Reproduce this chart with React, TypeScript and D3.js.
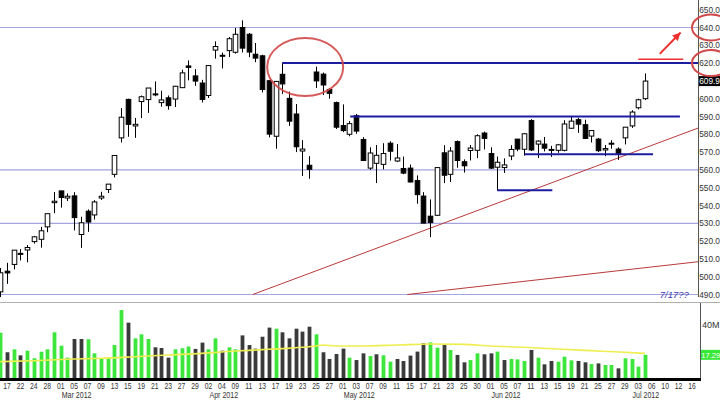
import React from 'react';
import * as d3 from 'd3';

// ---- data ----
const dates = [
  '2012-02-16','2012-02-17','2012-02-21','2012-02-22','2012-02-23','2012-02-24','2012-02-27','2012-02-28','2012-02-29',
  '2012-03-01','2012-03-02','2012-03-05','2012-03-06','2012-03-07','2012-03-08','2012-03-09','2012-03-12','2012-03-13',
  '2012-03-14','2012-03-15','2012-03-16','2012-03-19','2012-03-20','2012-03-21','2012-03-22','2012-03-23','2012-03-26',
  '2012-03-27','2012-03-28','2012-03-29','2012-03-30','2012-04-02','2012-04-03','2012-04-04','2012-04-05','2012-04-09',
  '2012-04-10','2012-04-11','2012-04-12','2012-04-13','2012-04-16','2012-04-17','2012-04-18','2012-04-19','2012-04-20',
  '2012-04-23','2012-04-24','2012-04-25','2012-04-26','2012-04-27','2012-04-30','2012-05-01','2012-05-02','2012-05-03',
  '2012-05-04','2012-05-07','2012-05-08','2012-05-09','2012-05-10','2012-05-11','2012-05-14','2012-05-15','2012-05-16',
  '2012-05-17','2012-05-18','2012-05-21','2012-05-22','2012-05-23','2012-05-24','2012-05-25','2012-05-29','2012-05-30',
  '2012-05-31','2012-06-01','2012-06-04','2012-06-05','2012-06-06','2012-06-07','2012-06-08','2012-06-11','2012-06-12',
  '2012-06-13','2012-06-14','2012-06-15','2012-06-18','2012-06-19','2012-06-20','2012-06-21','2012-06-22','2012-06-25',
  '2012-06-26','2012-06-27','2012-06-28','2012-06-29','2012-07-02','2012-07-03','2012-07-05'
];
const futureDates = ['2012-07-06','2012-07-09','2012-07-10','2012-07-11','2012-07-12','2012-07-13','2012-07-16'];

const opens = [
  491.5,503.1,506.9,513.1,515.0,519.7,521.0,528.0,541.6,548.2,544.2,545.4,523.7,536.8,534.7,544.2,549.0,557.5,
  578.0,599.6,584.7,598.4,599.5,602.7,597.8,600.5,599.8,606.2,618.4,612.8,608.8,601.8,627.3,624.4,627.0,626.1,
  640.0,636.2,625.0,624.1,610.1,578.9,613.7,600.2,591.4,570.6,562.6,615.0,613.8,605.2,597.8,584.9,580.0,590.5,
  577.1,561.0,563.7,563.1,575.0,565.0,560.8,561.0,554.0,545.3,534.0,534.5,569.6,557.5,575.9,564.6,570.9,571.0,
  580.7,569.2,561.5,561.3,567.8,577.3,571.6,587.7,574.5,574.5,571.2,571.0,571.0,583.4,588.2,585.4,579.0,577.3,
  571.2,575.0,571.7,578.0,584.7,594.9,600.0
];
const highs = [
  504.9,507.8,514.9,515.5,517.8,522.9,528.0,535.4,547.6,548.2,546.8,547.5,533.7,537.8,543.0,547.7,552.0,568.2,
  594.7,600.0,589.2,601.8,606.0,609.7,604.5,601.8,607.2,616.3,621.5,616.6,610.6,618.8,632.2,625.9,634.7,639.8,
  644.0,636.9,631.3,624.7,610.3,610.0,620.3,604.0,597.0,576.7,567.7,618.0,614.7,606.0,598.4,596.8,587.4,591.4,
  578.4,572.7,574.0,575.0,576.1,574.5,567.5,563.0,556.9,547.5,543.4,561.5,573.9,572.8,576.5,565.9,574.0,580.0,
  581.5,572.7,567.5,566.5,573.9,577.3,580.6,588.5,576.6,578.5,573.5,574.6,587.9,590.0,589.3,588.2,582.2,578.0,
  574.0,576.7,572.7,584.0,593.5,600.0,614.2
];
const lows = [
  486.6,496.0,504.1,509.1,508.1,518.6,516.3,525.0,535.7,538.8,542.5,526.0,516.2,525.2,532.1,543.1,547.0,555.8,
  575.4,578.6,578.0,589.1,592.0,601.4,595.5,593.8,595.3,606.1,610.3,607.2,597.9,600.4,622.5,617.0,623.4,625.3,
  626.0,623.3,620.5,603.5,578.3,571.9,602.7,584.7,570.0,556.6,555.0,606.0,602.1,600.0,583.0,581.2,578.9,580.3,
  565.2,560.0,552.6,560.3,565.2,564.4,557.6,553.0,541.0,530.1,522.2,534.1,552.6,553.2,561.2,558.5,565.3,566.6,
  571.5,560.5,548.5,558.3,565.5,570.5,568.0,570.6,566.7,570.4,567.3,569.6,570.4,583.1,580.8,577.4,575.4,570.0,
  567.7,571.9,565.6,574.3,583.6,594.0,599.2
];
const closes = [
  502.2,502.1,514.9,513.0,516.4,522.4,525.8,535.4,542.4,544.5,545.2,533.2,530.3,530.7,542.0,545.2,552.0,568.1,
  589.6,585.6,585.6,601.1,606.0,602.5,599.3,596.1,607.0,614.5,617.6,609.9,599.6,618.6,629.3,624.3,633.7,636.2,
  628.4,626.2,622.8,605.2,580.1,609.7,608.3,587.4,573.0,571.7,560.3,610.0,607.7,603.0,584.0,582.1,586.0,581.8,
  565.3,569.5,568.2,569.2,570.5,566.7,558.2,553.2,546.1,530.1,530.4,561.3,557.0,570.6,565.3,562.3,572.3,579.2,
  577.7,561.0,564.3,562.8,571.5,571.7,580.3,571.2,576.2,572.2,571.5,574.1,585.8,587.4,585.7,577.7,582.1,570.8,
  572.0,574.5,569.1,584.0,592.5,599.4,609.9
];
// volume, millions of shares
const volumes = [
  33.8,19.2,21.4,16.9,20.4,14.7,19.6,21.4,34.1,24.1,15.2,29.1,29.1,28.9,18.4,14.7,14.7,24.6,
  50.7,41.3,29.6,32.6,29.1,22.9,22.4,15.2,21.4,22.2,23.5,21.7,26.4,21.4,29.6,20.4,22.9,21.4,
  31.8,24.6,21.9,30.8,37.6,36.8,34.1,29.6,36.8,34.6,38.3,32.6,19.2,14.2,17.9,21.9,15.2,13.4,
  18.4,16.4,17.7,16.9,12.2,14.2,12.7,16.7,19.7,25.9,26.6,22.6,24.6,20.9,17.2,11.7,13.4,18.4,
  17.7,18.4,19.7,13.4,14.2,13.9,12.7,20.9,15.2,10.2,12.7,12.2,15.9,13.2,12.7,11.7,10.4,10.9,
  9.7,9.7,7.2,14.7,14.2,8.5,17.29
];
// volume moving average (millions), read at selected sessions
const volMaDates = ['2012-02-16','2012-02-24','2012-03-02','2012-03-09','2012-03-16','2012-03-23','2012-03-30','2012-04-09',
  '2012-04-16','2012-04-23','2012-04-25','2012-04-26','2012-04-30','2012-05-04','2012-05-11','2012-05-18','2012-05-25',
  '2012-06-01','2012-06-08','2012-06-15','2012-06-22','2012-06-29','2012-07-05'];
const volMa = [12.2,12.9,14.0,14.7,15.9,17.2,18.4,20.1,21.4,22.9,23.9,24.6,23.9,23.9,24.6,25.4,25.1,23.9,22.9,21.6,20.4,19.2,18.4];

const priceTicks = [490,500,510,520,530,540,550,560,570,580,590,600,610,620,630,640,650];
const gridLevels = [640, 560, 530, 490];
const lastPriceLabel = '609.9';
const lastVolumeLabel = '17.29';
const volTickLabel = '40M';
const volTick = 40;

// annotations in (session slot, price) space
const hLineLevels = [620, 590, 568.8, 548.5];
const hLineFrom = [42, 52.1, 78.1, 74];
const hLineTo = [103.9, 101.2, 97.2, 82.2];
const trendFrom = [[37.6, 490], [60.6, 490]];
const trendTo = [[103.9, 583.5], [103.9, 508.4]];
const circledSlot = 45.4, circledPrice = 617.8, circledRx = 5.66, circledRy = 16.3;
const circledAxisLevels = [640, 620];
const arrowFrom = [98.2, 625.2], arrowTo = [101.3, 637.2];
const dashFrom = [95.0, 622.1], dashTo = [101.7, 622.1];
const noteText = '7/17??';
const noteSlot = 98.2, notePrice = 490;

const monthNames = ['Jan','Feb','Mar','Apr','May','Jun','Jul','Aug','Sep','Oct','Nov','Dec'];

export default function App() {
  const W = 720, H = 400;
  const allDates = [...dates, ...futureDates];
  const x = d3.scaleLinear().domain([0, allDates.length - 1]).range([0.28, 692]);
  const y = d3.scaleLinear().domain([490, 640]).range([294.5, 27.5]);
  const yv = d3.scaleLinear().domain([0, volTick]).range([378, 324.4]);
  const axisX = 698;
  const font = "'Liberation Sans', Arial, sans-serif";
  const bodyW = 4.6, volW = 3.8;

  const maLine = d3.line<number>()
    .x((_, i) => x(dates.indexOf(volMaDates[i])))
    .y((d) => yv(d))
    .curve(d3.curveMonotoneX);

  const dayTicks: { k: number; label: string }[] = [];
  for (let k = 1; k < allDates.length; k += 2) dayTicks.push({ k, label: allDates[k].slice(8, 10) });
  const monthTicks: { k: number; label: string }[] = [];
  for (let k = 1; k < allDates.length; k++) {
    if (allDates[k].slice(5, 7) !== allDates[k - 1].slice(5, 7)) {
      monthTicks.push({ k, label: monthNames[+allDates[k].slice(5, 7) - 1] + ' ' + allDates[k].slice(0, 4) });
    }
  }

  const cx = x(circledSlot), cy = y(circledPrice);
  const erx = x(circledSlot + circledRx) - cx;
  const ery = y(circledPrice - circledRy) - cy;

  const ax1 = x(arrowFrom[0]), ay1 = y(arrowFrom[1]);
  const ax2 = x(arrowTo[0]), ay2 = y(arrowTo[1]);
  const ang = Math.atan2(ay2 - ay1, ax2 - ax1);
  const ah = 9;
  const head = [
    [ax2, ay2],
    [ax2 - ah * Math.cos(ang - 0.45), ay2 - ah * Math.sin(ang - 0.45)],
    [ax2 - ah * Math.cos(ang + 0.45), ay2 - ah * Math.sin(ang + 0.45)],
  ];
  const lastY = y(closes[closes.length - 1]);
  const lastVY = yv(volumes[volumes.length - 1]);

  return (
    <svg width={W} height={H} style={{ position: 'absolute', left: 0, top: 0, background: '#fff' }}
      fontFamily={font}>
      <defs>
        <clipPath id="mainClip"><rect x={0} y={0} width={axisX} height={297} /></clipPath>
      </defs>
      <rect x={0} y={0} width={W} height={H} fill="#fff" />

      {/* horizontal reference lines */}
      {gridLevels.map((g) => (
        <line key={g} x1={0} x2={axisX} y1={y(g)} y2={y(g)} stroke="#a4a4e0" strokeWidth={1.2} />
      ))}

      {/* trendlines */}
      {trendFrom.map((f, i) => (
        <line key={i} x1={x(f[0])} y1={y(f[1])} x2={x(trendTo[i][0])} y2={y(trendTo[i][1])}
          stroke="#b83a3a" strokeWidth={1} />
      ))}

      {/* candles */}
      <g clipPath="url(#mainClip)">
        {dates.map((d, i) => {
          const xc = Math.round(x(i)) + 0.5;
          const up = closes[i] >= opens[i];
          const top = y(Math.max(opens[i], closes[i]));
          const bot = y(Math.min(opens[i], closes[i]));
          return (
            <g key={d}>
              <line x1={xc} x2={xc} y1={y(highs[i])} y2={y(lows[i])} stroke="#000" strokeWidth={1} />
              <rect x={xc - bodyW / 2} y={top} width={bodyW} height={Math.max(1, bot - top)}
                fill={up ? '#fff' : '#000'} stroke="#000" strokeWidth={1} />
            </g>
          );
        })}
      </g>

      {/* blue support / resistance lines */}
      {hLineLevels.map((lv, i) => (
        <line key={lv} x1={x(hLineFrom[i])} x2={x(hLineTo[i])} y1={y(lv)} y2={y(lv)}
          stroke="#1c1ca0" strokeWidth={2} />
      ))}

      {/* red annotations */}
      <ellipse cx={cx} cy={cy} rx={erx} ry={ery} fill="none" stroke="#d04848" strokeWidth={2} opacity={0.9} />
      <line x1={x(dashFrom[0])} x2={x(dashTo[0])} y1={y(dashFrom[1])} y2={y(dashTo[1])} stroke="#ee3030" strokeWidth={1.5} />
      <line x1={ax1} y1={ay1} x2={ax2} y2={ay2} stroke="#ee3030" strokeWidth={2} />
      <polygon points={head.map((p) => p.join(',')).join(' ')} fill="#ee3030" />

      <text x={x(noteSlot)} y={y(notePrice) + 3.5} fontSize={9.5} fill="#3b3bb0" fontStyle="italic">{noteText}</text>

      {/* right price axis */}
      <line x1={axisX + 0.5} x2={axisX + 0.5} y1={0} y2={297} stroke="#555" strokeWidth={1} />
      {priceTicks.map((t) => (
        <text key={t} x={axisX + 1.2} y={y(t) + 3} fontSize={8.3} fill="#333">{t.toFixed(1)}</text>
      ))}
      <rect x={axisX + 1} y={lastY - 5} width={W - axisX} height={10} fill="#000" />
      <text x={axisX + 1.2} y={lastY + 3} fontSize={8.3} fill="#fff">{lastPriceLabel}</text>
      {circledAxisLevels.map((lv) => (
        <ellipse key={lv} cx={axisX + 13} cy={y(lv)} rx={19} ry={13} fill="none" stroke="#d04848" strokeWidth={2} />
      ))}

      {/* panel separator */}
      <line x1={0} x2={W} y1={302.5} y2={302.5} stroke="#b0b0b0" strokeWidth={1} />

      {/* volume */}
      {dates.map((d, i) => {
        const up = i === 0 ? true : closes[i] >= closes[i - 1];
        const xc = Math.round(x(i)) + 0.5;
        return (
          <rect key={d} x={xc - volW / 2} y={yv(volumes[i])} width={volW} height={yv(0) - yv(volumes[i])}
            fill={up ? '#3de63d' : '#3a3a3a'} />
        );
      })}
      <path d={maLine(volMa) || ''} fill="none" stroke="#eeee50" strokeWidth={1.6} />
      <line x1={axisX + 2.5} x2={axisX + 2.5} y1={303} y2={380} stroke="#555" strokeWidth={1} />
      <text x={axisX + 4} y={yv(volTick) + 3.2} fontSize={9} fill="#333">{volTickLabel}</text>
      <rect x={axisX + 3} y={lastVY - 5} width={W - axisX} height={10} fill="#38e838" />
      <text x={axisX + 3.3} y={lastVY + 2.8} fontSize={7.5} fill="#fff">{lastVolumeLabel}</text>
      <rect x={0} y={378} width={axisX + 3} height={3} fill="#000" />

      {/* date axis */}
      {dayTicks.map((t) => (
        <text key={t.k} transform={`translate(${x(t.k)},389) scale(0.8,1)`} textAnchor="middle"
          fontSize={8.5} fill="#333">{t.label}</text>
      ))}
      {monthTicks.map((t) => (
        <text key={t.k} transform={`translate(${x(t.k) + 1},398.4) scale(0.83,1)`} fontSize={8.5} fill="#333">{t.label}</text>
      ))}
    </svg>
  );
}
